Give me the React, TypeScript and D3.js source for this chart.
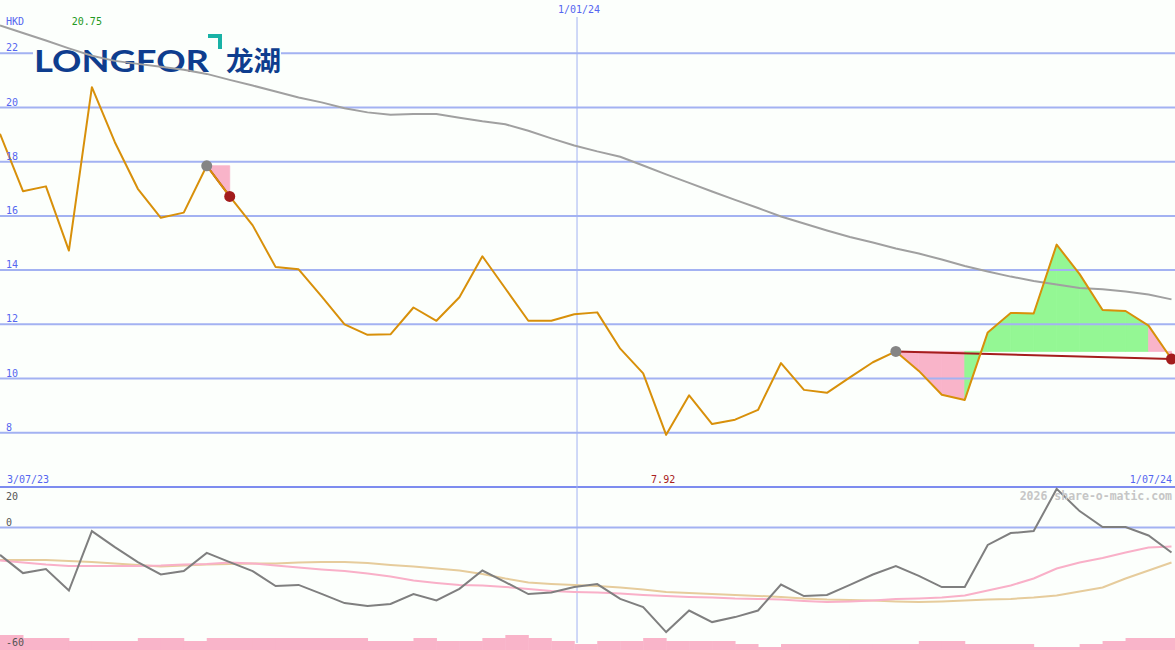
import React from "react";
import * as d3 from "d3";

// ---------- data ----------
const prices = [
  19.03, 16.91, 17.09, 14.72, 20.75, 18.72, 17.0, 15.93, 16.12, 17.85,
  16.72, 15.65, 14.11, 14.03, 13.03, 12.0, 11.61, 11.63, 12.62, 12.13,
  13.0, 14.51, 13.32, 12.13, 12.13, 12.37, 12.44, 11.1, 10.19, 7.92,
  9.38, 8.32, 8.48, 8.84, 10.57, 9.58, 9.47, 10.04, 10.6, 11.0,
  10.28, 9.4, 9.21, 11.7, 12.42, 12.4, 14.94, 13.85, 12.53, 12.49,
  11.95, 10.72,
];
const priceMA = [
  23.03, 22.75, 22.47, 22.18, 21.91, 21.72, 21.61, 21.5, 21.39, 21.24,
  21.02, 20.81, 20.59, 20.37, 20.19, 19.97, 19.82, 19.73, 19.76, 19.76,
  19.62, 19.49, 19.38, 19.14, 18.86, 18.6, 18.38, 18.18, 17.86, 17.53,
  17.22, 16.9, 16.59, 16.29, 15.98, 15.72, 15.46, 15.22, 15.02, 14.8,
  14.61, 14.39, 14.15, 13.95, 13.76, 13.6, 13.47, 13.34, 13.29, 13.21,
  13.1, 12.92,
];
const oscValues = [
  -13.7, -22.8, -20.8, -31.5, -1.8, -9.8, -17.3, -23.5, -21.8, -12.7,
  -17.3, -21.8, -29.3, -28.7, -33.2, -37.8, -39.3, -38.2, -33.3, -36.5,
  -30.7, -21.5, -27.3, -33.3, -32.5, -29.8, -28.3, -35.7, -39.8, -52.3,
  -41.5, -47.3, -44.8, -41.5, -28.5, -34.3, -33.7, -28.7, -23.5, -19.3,
  -24.2, -29.8, -29.8, -8.7, -2.8, -1.8, 19.3, 8.2, 0.2, 0.2,
  -4, -12.5,
];
const oscFastMA = [
  -16.5, -17.5, -18.5, -19.2, -19.2, -19.2, -19.2, -19.0, -18.5, -18.2,
  -17.5, -18.0, -19.0, -20.0, -21.0, -21.8, -23.0, -24.5, -26.5, -27.7,
  -28.7, -29.0, -29.7, -30.7, -31.7, -32.2, -32.5, -33.0, -33.7, -34.3,
  -34.7, -35.0, -35.5, -35.7, -36.0, -36.7, -37.3, -37.0, -36.5, -35.8,
  -35.5, -35.0, -34.0, -31.5, -29.0, -25.5, -20.5, -17.5, -15.2, -12.5,
  -10.0, -9.5,
];
const oscSlowMA = [
  -16.2, -16.2, -16.2, -16.7, -17.2, -18.0, -18.7, -19.5, -19.0, -18.5,
  -18.2, -18.0, -18.0, -17.5, -17.2, -17.3, -17.7, -18.7, -19.5, -20.5,
  -21.5, -23.2, -25.5, -27.5, -28.2, -28.7, -29.2, -30.0, -31.0, -32.2,
  -32.7, -33.2, -33.7, -34.2, -34.7, -35.5, -36.0, -36.2, -36.5, -37.0,
  -37.3, -37.0, -36.5, -36.0, -35.7, -35.0, -34.0, -32.0, -30.0, -25.5,
  -21.5, -17.5,
];
const volumes = [
  5, 4, 4, 3, 3, 3, 4, 4, 3, 4,
  4, 4, 4, 4, 4, 4, 3, 3, 4, 3,
  3, 4, 5, 4, 3, 2, 3, 3, 4, 3,
  3, 3, 2, 1, 2, 2, 2, 2, 2, 2,
  3, 3, 2, 2, 2, 1, 1, 2, 3, 4,
  4, 4,
];
const priceTicks = [8, 10, 12, 14, 16, 18, 20, 22];
const oscTicks = [20, 0, -60];
const startLabel = "3/07/23";
const endLabel = "1/07/24";
const midLabels = ["1/01/24"];
const midIndex = [25.12];
const eventStarts = [9, 39];
const eventEnds = [10, 51];
const currency = "HKD";
const watermark = "2026 share-o-matic.com";

// ---------- layout ----------
const W = 1175;
const H = 650;
const MONO = "'DejaVu Sans Mono', monospace";
const BLUE_TXT = "#5566f0";
const GRID = "#a3b2f2";
const DIVIDER = "#7d8cef";
const BG = "#fcfffc";

export default function App() {
  const n = prices.length;
  const x = d3.scaleLinear().domain([0, n - 1]).range([0, 1171.5]);
  const y = d3.scaleLinear().domain([8, 22]).range([432.7, 53.3]);
  const yo = d3.scaleLinear().domain([-60, 20]).range([647.5, 487.5]);
  const yv = d3.scaleLinear().domain([0, 5]).range([650, 635]);

  const line = (vals: number[], ys: (v: number) => number) =>
    d3
      .line<number>()
      .x((_, i) => x(i))
      .y((v) => ys(v))(vals) || "";

  const maxIdx = d3.maxIndex(prices);
  const minIdx = d3.minIndex(prices);

  const fills: { d: string; up: boolean }[] = [];
  eventStarts.forEach((s, k) => {
    const e = eventEnds[k];
    const base = prices[s];
    for (let i = s; i < e; i++) {
      const pts: [number, number][] = [
        [x(i), y(base)],
        [x(i), y(prices[i])],
        [x(i + 1), y(prices[i + 1])],
        [x(i + 1), y(base)],
      ];
      fills.push({
        d: "M" + pts.map((p) => p.join(",")).join("L") + "Z",
        up: prices[i + 1] >= base,
      });
    }
  });

  return (
    <svg
      width={W}
      height={H}
      style={{ position: "absolute", left: 0, top: 0, display: "block" }}
    >
      <rect x={0} y={0} width={W} height={H} fill={BG} />

      {/* event fills */}
      {fills.map((f, i) => {
        const c = f.up ? "#94f794" : "#f9b4c9";
        return <path key={"f" + i} d={f.d} fill={c} stroke={c} strokeWidth={0.8} />;
      })}

      {/* volume bars */}
      {volumes.map((v, i) => (
        <rect
          key={"v" + i}
          x={x(i)}
          y={yv(v)}
          width={Math.min(x(i + 1), W) - x(i) + 0.5}
          height={H - yv(v)}
          fill="#f9b4c9"
        />
      ))}

      {/* main grid */}
      {priceTicks.map((t) => (
        <line key={"g" + t} x1={0} x2={W} y1={y(t)} y2={y(t)} stroke={GRID} strokeWidth={2} />
      ))}
      <line x1={0} x2={W} y1={yo(0)} y2={yo(0)} stroke={GRID} strokeWidth={2} />
      <line x1={0} x2={W} y1={487} y2={487} stroke={DIVIDER} strokeWidth={2} />
      {midIndex.map((m, i) => (
        <line key={"m" + i} x1={x(m)} x2={x(m)} y1={17} y2={643} stroke={GRID} strokeWidth={1} />
      ))}

      {/* logo */}
      <rect x={33} y={32} width={248} height={44} fill={BG} />
      <text
        x={34}
        y={72}
        fontFamily="Lato, 'Open Sans', sans-serif"
        fontWeight={700}
        fontSize={31}
        fill="#0e3d8e"
        textLength={175}
        lengthAdjust="spacingAndGlyphs"
      >
        LONGFOR
      </text>
      <path d="M208,34H222V49H218V38H208Z" fill="#19b2a6" />
      <text
        x={226}
        y={71}
        fontFamily="'Noto Sans CJK SC', sans-serif"
        fontWeight={700}
        fontSize={27}
        fill="#0e3d8e"
        textLength={55}
        lengthAdjust="spacingAndGlyphs"
      >
        龙湖
      </text>

      {/* moving average */}
      <path d={line(priceMA, y)} fill="none" stroke="#a0a0a0" strokeWidth={2} />

      {/* event lines */}
      {eventStarts.map((s, k) => (
        <line
          key={"el" + k}
          x1={x(s)}
          y1={y(prices[s])}
          x2={x(eventEnds[k])}
          y2={y(prices[eventEnds[k]])}
          stroke="#a51d1d"
          strokeWidth={2}
        />
      ))}

      {/* price */}
      <path d={line(prices, y)} fill="none" stroke="#d8900a" strokeWidth={2} strokeLinejoin="round" />

      {/* event dots */}
      {eventStarts.map((s, k) => (
        <g key={"ed" + k}>
          <circle cx={x(s)} cy={y(prices[s])} r={5.5} fill="#858585" />
          <circle cx={x(eventEnds[k])} cy={y(prices[eventEnds[k]])} r={5.5} fill="#a31c1c" />
        </g>
      ))}

      {/* oscillator panel */}
      <path d={line(oscSlowMA, yo)} fill="none" stroke="#e6cc9c" strokeWidth={2} />
      <path d={line(oscFastMA, yo)} fill="none" stroke="#f9b0c8" strokeWidth={2} />
      <path d={line(oscValues, yo)} fill="none" stroke="#7f7f7f" strokeWidth={2} />

      {/* labels */}
      <g fontFamily={MONO} fontSize={10}>
        {priceTicks.map((t) => (
          <text key={"t" + t} x={6} y={y(t) - 2} fill={BLUE_TXT}>
            {t}
          </text>
        ))}
        <text x={6} y={25} fill={BLUE_TXT}>
          {currency}
        </text>
        <text x={x(maxIdx) - 5} y={25} fill="#229922" textAnchor="middle">
          {prices[maxIdx].toFixed(2)}
        </text>
        {midIndex.map((m, i) => (
          <text key={"ml" + i} x={x(m) + 2} y={13} fill={BLUE_TXT} textAnchor="middle">
            {midLabels[i]}
          </text>
        ))}
        <text x={7} y={483} fill={BLUE_TXT}>
          {startLabel}
        </text>
        <text x={x(minIdx) - 3} y={483} fill="#a82020" textAnchor="middle">
          {prices[minIdx].toFixed(2)}
        </text>
        <text x={1172} y={483} fill={BLUE_TXT} textAnchor="end">
          {endLabel}
        </text>
        {oscTicks.map((t) => (
          <text
            key={"o" + t}
            x={6}
            y={yo(t) - 2 < 495 ? yo(t) + 12 : yo(t) - 2}
            fill="#555555"
          >
            {t}
          </text>
        ))}
      </g>
      <text
        x={1172}
        y={500}
        fontFamily={MONO}
        fontSize={11.5}
        fontWeight={700}
        fill="#c6c6c6"
        textAnchor="end"
      >
        {watermark}
      </text>
    </svg>
  );
}
